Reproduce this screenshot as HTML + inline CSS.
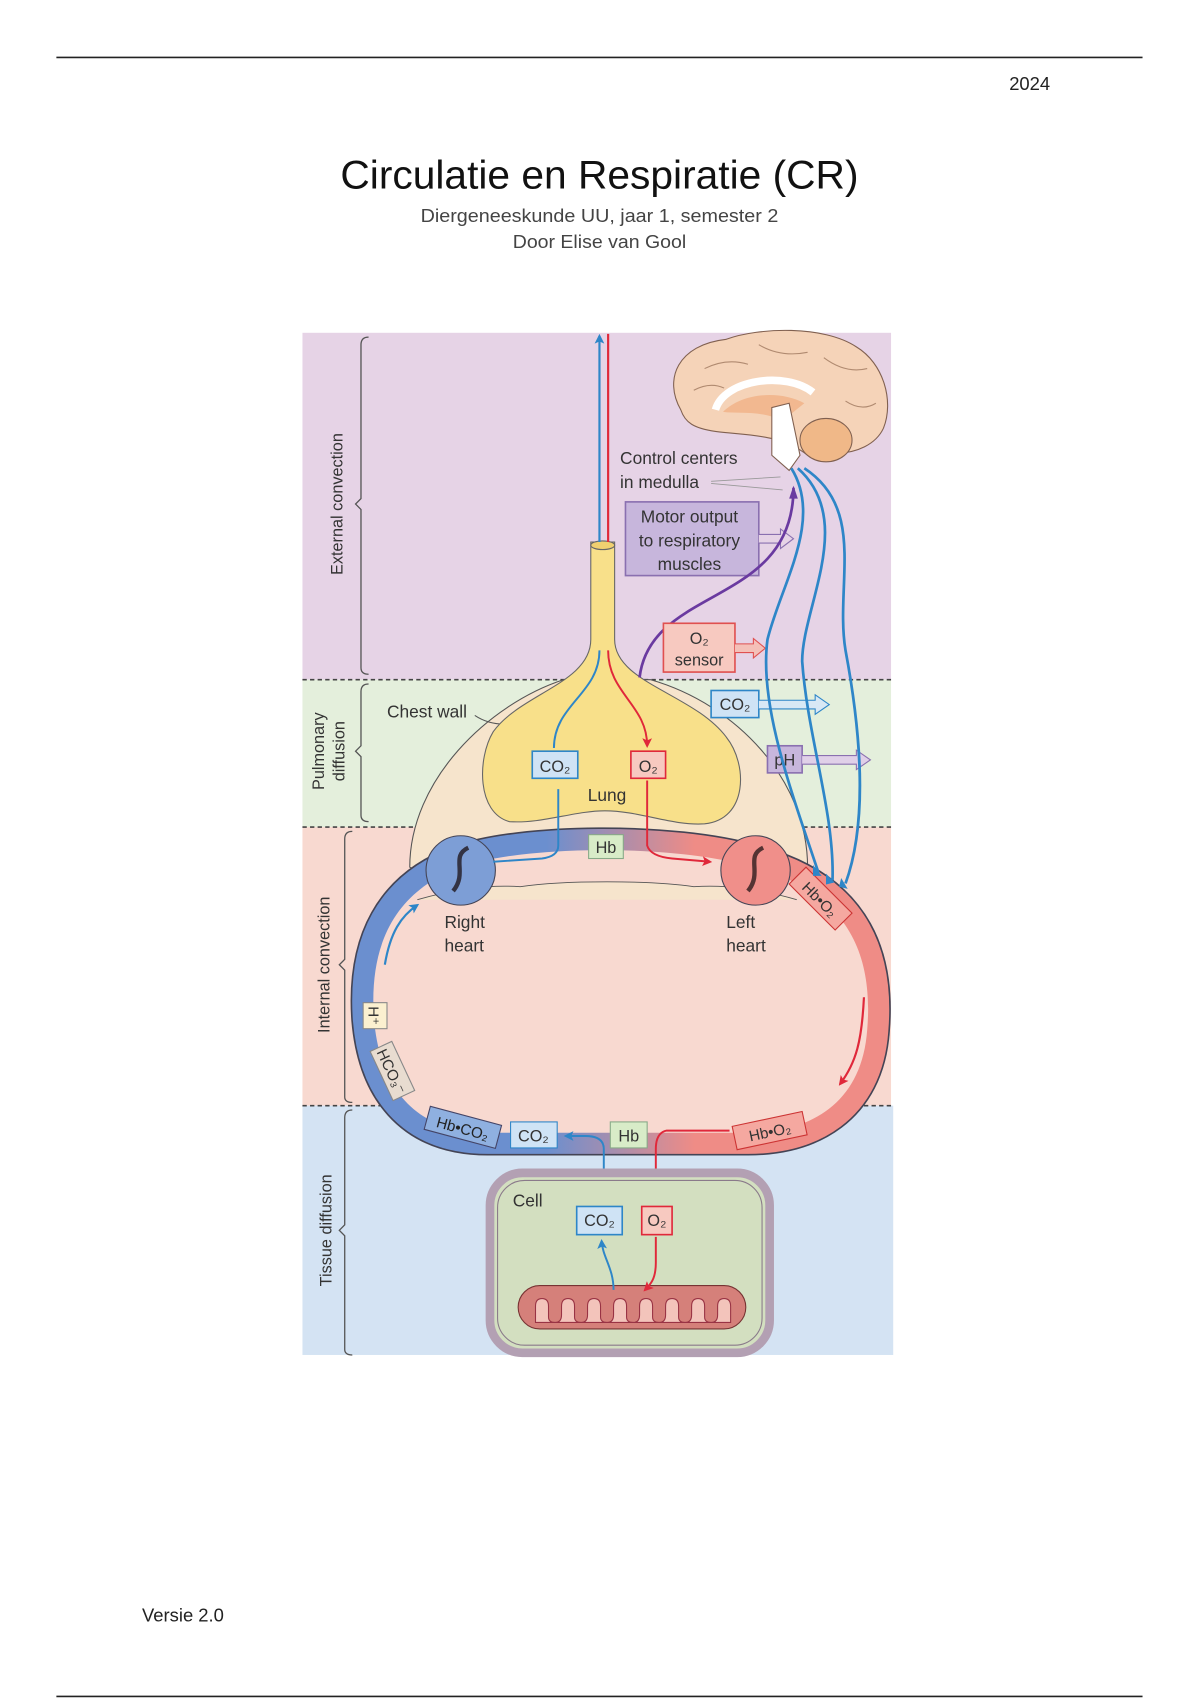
<!DOCTYPE html>
<html><head><meta charset="utf-8"><style>
html,body{margin:0;padding:0;background:#fff;width:1200px;height:1700px;overflow:hidden}
svg{display:block}
text{font-family:"Liberation Sans",sans-serif}
</style></head><body>
<svg width="1200" height="1700" viewBox="0 0 1107 1568.3" xmlns="http://www.w3.org/2000/svg">
<defs>
<linearGradient id="lg" x1="0" x2="1" y1="0" y2="0"><stop offset="0.35" stop-color="#6b8fcf"/><stop offset="0.65" stop-color="#ef8c86"/></linearGradient>
<marker id="ab" markerUnits="userSpaceOnUse" markerWidth="9" markerHeight="9" refX="7" refY="4.5" orient="auto"><path d="M0,0 L9,4.5 L0,9 L2,4.5 Z" fill="#2e86c8"/></marker>
<marker id="ar" markerUnits="userSpaceOnUse" markerWidth="9" markerHeight="9" refX="7" refY="4.5" orient="auto"><path d="M0,0 L9,4.5 L0,9 L2,4.5 Z" fill="#e0283a"/></marker>
</defs>
<line x1="52" y1="53" x2="1054" y2="53" stroke="#222" stroke-width="1.5"/>
<line x1="52" y1="1565" x2="1054" y2="1565" stroke="#222" stroke-width="1.5"/>
<text x="931" y="83" font-size="17" fill="#222">2024</text>
<text x="553" y="174" font-size="37" text-anchor="middle" textLength="478" lengthAdjust="spacingAndGlyphs" fill="#111">Circulatie en Respiratie (CR)</text>
<text x="553" y="205" font-size="17" text-anchor="middle" textLength="330" lengthAdjust="spacingAndGlyphs" fill="#444">Diergeneeskunde UU, jaar 1, semester 2</text>
<text x="553" y="229" font-size="17" text-anchor="middle" textLength="160" lengthAdjust="spacingAndGlyphs" fill="#444">Door Elise van Gool</text>
<text x="131" y="1496" font-size="17" fill="#222">Versie 2.0</text>

<rect x="279" y="307" width="543" height="320" fill="#e6d3e6"/>
<rect x="279" y="627" width="543" height="136" fill="#e4efdc"/>
<rect x="279" y="763" width="543" height="257" fill="#f8d9d0"/>
<rect x="279" y="1020" width="545" height="230" fill="#d4e3f3"/>
<g stroke="#444" stroke-width="1.5" stroke-dasharray="4,3"><line x1="279" y1="627" x2="822" y2="627"/><line x1="279" y1="763" x2="822" y2="763"/><line x1="279" y1="1020" x2="822" y2="1020"/></g>
<g fill="none" stroke="#555" stroke-width="1.2">
<path d="M340 311 Q333 311 333 318 L333 460 L328 465 L333 470 L333 616 Q333 622 340 622"/>
<path d="M340 631 Q333 631 333 638 L333 688 L328 693 L333 698 L333 752 Q333 758 340 758"/>
<path d="M325 767 Q318 767 318 774 L318 885 L313 890 L318 895 L318 1012 Q318 1017 325 1017"/>
<path d="M325 1024 Q318 1024 318 1031 L318 1130 L313 1135 L318 1140 L318 1245 Q318 1250 325 1250"/>
</g>
<g font-size="15" fill="#333" text-anchor="middle">
<text transform="translate(316,465) rotate(-90)">External convection</text>
<text transform="translate(299,693) rotate(-90)">Pulmonary</text>
<text transform="translate(318,693) rotate(-90)">diffusion</text>
<text transform="translate(304,890) rotate(-90)">Internal convection</text>
<text transform="translate(306,1135) rotate(-90)">Tissue diffusion</text>
</g>

<path d="M378 800 C378 720 450 650 520 627 L600 627 C680 650 745 720 745 800 C700 820 640 805 560 800 C480 805 420 820 378 800 Z" fill="#f6e4cc" stroke="#555" stroke-width="1"/>
<text x="357" y="662" font-size="16" fill="#333">Chest wall</text>
<path d="M438 660 Q450 668 465 668" stroke="#555" fill="none"/>
<path d="M545 500 L545 590 C545 630 480 640 455 675 C440 700 440 750 470 758 C500 760 530 748 558 748 C590 748 620 762 650 760 C690 756 690 705 670 680 C640 640 567 630 567 590 L567 500 Z" fill="#f8e08a" stroke="#666" stroke-width="1"/>
<ellipse cx="556" cy="503" rx="11" ry="4" fill="#f0d070" stroke="#666"/>
<text x="560" y="739" font-size="16" fill="#333" text-anchor="middle">Lung</text>
<line x1="553" y1="500" x2="553" y2="310" stroke="#2e86c8" stroke-width="2" marker-end="url(#ab)"/>
<line x1="561" y1="500" x2="561" y2="308" stroke="#e0283a" stroke-width="2"/>
<path d="M553 600 C553 640 511 650 511 690" stroke="#2e86c8" stroke-width="1.8" fill="none"/>
<path d="M561 600 C561 640 597 650 597 688" stroke="#e0283a" stroke-width="1.8" fill="none" marker-end="url(#ar)"/>
<rect x="491" y="693" width="42" height="25" fill="#cfe3f5" stroke="#2e86c8" stroke-width="1.5"/><text x="512" y="712" font-size="15" text-anchor="middle" fill="#333">CO₂</text>
<rect x="582" y="693" width="32" height="25" fill="#f7c9c0" stroke="#e0283a" stroke-width="1.5"/><text x="598" y="712" font-size="15" text-anchor="middle" fill="#333">O₂</text>

<path d="M425 800 C480 780 620 778 695 800 C790 825 805 890 800 950 C795 1020 745 1045 690 1045 L450 1045 C380 1045 350 1000 345 940 C340 870 365 822 425 800 Z" fill="none" stroke="#445" stroke-width="42"/>
<path d="M425 800 C480 780 620 778 695 800 C790 825 805 890 800 950 C795 1020 745 1045 690 1045 L450 1045 C380 1045 350 1000 345 940 C340 870 365 822 425 800 Z" fill="none" stroke="url(#lg)" stroke-width="39"/>
<path d="M425 800 C480 780 620 778 695 800 C790 825 805 890 800 950 C795 1020 745 1045 690 1045 L450 1045 C380 1045 350 1000 345 940 C340 870 365 822 425 800 Z" fill="#f8d9d0" stroke="none"/>
<path d="M385 830 C420 820 450 816 480 818 C520 812 600 812 640 818 C670 816 700 820 735 830" fill="#f6e4cc" stroke="#555" stroke-width="0.8"/>
<circle cx="425" cy="803" r="32" fill="#7d9ed6" stroke="#445"/>
<circle cx="697" cy="803" r="32" fill="#f08f8a" stroke="#445"/>
<path d="M432 782 C415 790 432 805 418 822" stroke="#334" stroke-width="4" fill="none"/>
<path d="M704 782 C687 790 704 805 690 822" stroke="#533" stroke-width="4" fill="none"/>
<path d="M515 728 L515 780 Q515 790 500 792 L455 795" stroke="#2e86c8" stroke-width="1.8" fill="none"/>
<path d="M597 720 L597 780 Q600 790 620 792 L655 795" stroke="#e0283a" stroke-width="1.8" fill="none" marker-end="url(#ar)"/>
<path d="M355 890 C360 860 370 845 385 835" stroke="#2e86c8" stroke-width="2" fill="none" marker-end="url(#ab)"/>
<path d="M797 920 C795 960 790 980 775 1000" stroke="#e0283a" stroke-width="2" fill="none" marker-end="url(#ar)"/>
<rect x="543" y="770" width="32" height="22" fill="#d8ecc8" stroke="#8a8" /><text x="559" y="787" font-size="15" text-anchor="middle" fill="#333">Hb</text>
<g font-size="16" fill="#333"><text x="410" y="856">Right</text><text x="410" y="878">heart</text><text x="670" y="856">Left</text><text x="670" y="878">heart</text></g>
<g transform="translate(757,829) rotate(45)"><rect x="-30" y="-11" width="60" height="22" fill="#f5a8a0" stroke="#c33"/><text y="6" font-size="14" text-anchor="middle" fill="#333">Hb•O₂</text></g>
<g transform="translate(346,937) rotate(90)"><rect x="-12" y="-11" width="24" height="22" fill="#fbf0d0" stroke="#888"/><text y="6" font-size="14" text-anchor="middle" fill="#333">H⁺</text></g>
<g transform="translate(362,988) rotate(65)"><rect x="-25" y="-11" width="50" height="22" fill="#e8dcd0" stroke="#888"/><text y="6" font-size="14" text-anchor="middle" fill="#333">HCO₃⁻</text></g>
<g transform="translate(427,1040) rotate(15)"><rect x="-34" y="-11" width="68" height="22" fill="#8fb0e0" stroke="#446"/><text y="6" font-size="14" text-anchor="middle" fill="#222">Hb•CO₂</text></g>
<rect x="471" y="1035" width="43" height="24" fill="#cfe3f5" stroke="#2e86c8"/><text x="492" y="1053" font-size="15" text-anchor="middle" fill="#333">CO₂</text>
<rect x="563" y="1035" width="34" height="24" fill="#d8ecc8" stroke="#8a8"/><text x="580" y="1053" font-size="15" text-anchor="middle" fill="#333">Hb</text>
<g transform="translate(710,1043) rotate(-12)"><rect x="-33" y="-11" width="66" height="22" fill="#f5a8a0" stroke="#c33"/><text y="6" font-size="14" text-anchor="middle" fill="#333">Hb•O₂</text></g>
<path d="M557 1113 L557 1060 Q557 1048 540 1048 L522 1048" stroke="#2e86c8" stroke-width="1.8" fill="none" marker-end="url(#ab)"/>
<path d="M673 1043 L615 1043 Q605 1045 605 1060 L605 1106" stroke="#e0283a" stroke-width="1.8" fill="none" marker-end="url(#ar)"/>

<rect x="452" y="1082" width="258" height="166" rx="30" fill="#d3dfc0" stroke="#b3a0b3" stroke-width="8"/>
<rect x="459" y="1089" width="244" height="152" rx="25" fill="none" stroke="#8a7a8a" stroke-width="1"/>
<text x="473" y="1113" font-size="16" fill="#333">Cell</text>
<rect x="532" y="1113" width="42" height="26" fill="#cfe3f5" stroke="#2e86c8" stroke-width="1.5"/><text x="553" y="1131" font-size="15" text-anchor="middle" fill="#333">CO₂</text>
<rect x="592" y="1113" width="28" height="26" fill="#f7c9c0" stroke="#e0283a" stroke-width="1.5"/><text x="606" y="1131" font-size="15" text-anchor="middle" fill="#333">O₂</text>
<rect x="478" y="1186" width="210" height="40" rx="20" fill="#d5807a" stroke="#733"/>
<path d="M494 1220 L494 1205 Q494 1198 500 1198 Q506 1198 506 1205 L506 1215 Q506 1220 512 1220 Q518 1220 518 1213 L518 1205 Q518 1198 524 1198 Q530 1198 530 1205 L530 1215 Q530 1220 536 1220 Q542 1220 542 1213 L542 1205 Q542 1198 548 1198 Q554 1198 554 1205 L554 1215 Q554 1220 560 1220 Q566 1220 566 1213 L566 1205 Q566 1198 572 1198 Q578 1198 578 1205 L578 1215 Q578 1220 584 1220 Q590 1220 590 1213 L590 1205 Q590 1198 596 1198 Q602 1198 602 1205 L602 1215 Q602 1220 608 1220 Q614 1220 614 1213 L614 1205 Q614 1198 620 1198 Q626 1198 626 1205 L626 1215 Q626 1220 632 1220 Q638 1220 638 1213 L638 1205 Q638 1198 644 1198 Q650 1198 650 1205 L650 1215 Q650 1220 656 1220 Q662 1220 662 1213 L662 1205 Q662 1198 668 1198 Q674 1198 674 1205 L674 1220 Z" fill="#f3c4bb" stroke="#934" stroke-width="1"/>
<path d="M566 1190 C566 1170 556 1160 555 1145" stroke="#2e86c8" stroke-width="1.8" fill="none" marker-end="url(#ab)"/>
<path d="M605 1141 L605 1165 C605 1180 600 1185 595 1190" stroke="#e0283a" stroke-width="1.8" fill="none" marker-end="url(#ar)"/>

<!-- brain -->
<path d="M628 378 C612 350 625 318 670 313 C700 302 760 300 790 320 C815 335 825 370 815 395 C808 410 790 418 772 418 L745 420 C720 400 690 402 660 398 C640 395 632 390 628 378 Z" fill="#f5d3b8" stroke="#806050" stroke-width="1"/>
<path d="M650 340 Q670 330 690 336 M700 318 Q720 330 745 325 M760 330 Q780 345 800 340 M640 360 Q655 352 668 358 M780 370 Q795 380 808 372" stroke="#b08a70" stroke-width="1" fill="none"/>
<path d="M660 378 C668 350 725 342 750 362" stroke="#fff" stroke-width="7" fill="none"/>
<path d="M667 380 C685 362 720 360 742 372 L722 388 C700 378 682 382 667 380 Z" fill="#f2b890"/>
<ellipse cx="762" cy="406" rx="24" ry="20" fill="#f0b888" stroke="#806050"/>
<path d="M712 376 L728 372 L738 420 L728 434 L712 420 Z" fill="#fff" stroke="#806050"/>
<g font-size="16" fill="#333"><text x="572" y="428">Control centers</text><text x="572" y="450">in medulla</text></g>
<path d="M656 444 L720 440 M656 446 L722 452" stroke="#999" stroke-width="0.8"/>
<rect x="577" y="463" width="123" height="68" fill="#c7b6dc" stroke="#8a70b0" stroke-width="1.5"/>
<g font-size="16" fill="#333" text-anchor="middle"><text x="636" y="482">Motor output</text><text x="636" y="504">to respiratory</text><text x="636" y="526">muscles</text></g>
<path d="M700 493 L720 493 L720 488 L732 497 L720 506 L720 501 L700 501" fill="#e6d3e6" stroke="#8a70b0"/>
<path d="M732 450 C732 560 600 540 590 625" stroke="#6a3aa0" stroke-width="2.5" fill="none"/>
<path d="M728 460 L732 448 L736 460 Z" fill="#6a3aa0"/>
<rect x="612" y="575" width="66" height="45" fill="#f7c9c0" stroke="#e05050" stroke-width="1.5"/>
<g font-size="15" fill="#333" text-anchor="middle"><text x="645" y="594">O₂</text><text x="645" y="614">sensor</text></g>
<path d="M678 594 L695 594 L695 589 L706 598 L695 607 L695 602 L678 602" fill="#f4c0b8" stroke="#e05050"/>
<rect x="656" y="637" width="44" height="25" fill="#cfe3f5" stroke="#2e86c8" stroke-width="1.5"/><text x="678" y="655" font-size="15" text-anchor="middle" fill="#333">CO₂</text>
<path d="M700 646 L752 646 L752 641 L765 650 L752 659 L752 654 L700 654" fill="#d8e8f5" stroke="#2e86c8"/>
<rect x="708" y="688" width="32" height="25" fill="#c7b6dc" stroke="#8a70b0" stroke-width="1.5"/><text x="724" y="706" font-size="15" text-anchor="middle" fill="#333">pH</text>
<path d="M740 697 L790 697 L790 692 L803 701 L790 710 L790 705 L740 705" fill="#e0d0e8" stroke="#8a70b0"/>
<g stroke="#2e86c8" stroke-width="2.5" fill="none">
<path d="M730 432 C760 480 720 540 708 590 C700 650 730 730 755 805"/>
<path d="M736 432 C790 480 740 560 740 610 C745 680 770 750 768 812"/>
<path d="M742 432 C800 470 770 540 780 600 C795 680 800 760 780 815"/>
</g>
<g fill="#2e86c8"><path d="M750 798 L758 808 L750 808 Z"/><path d="M762 806 L770 814 L762 816 Z"/><path d="M776 810 L782 820 L774 818 Z"/></g>
</svg>
</body></html>
